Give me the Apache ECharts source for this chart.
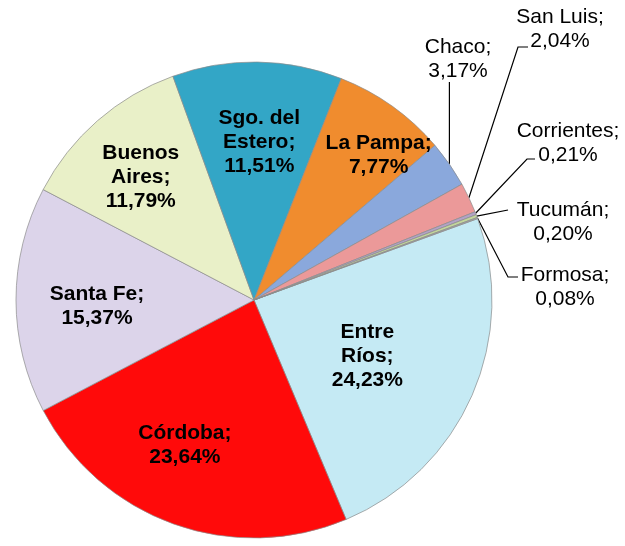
<!DOCTYPE html>
<html>
<head>
<meta charset="utf-8">
<script src="https://cdn.jsdelivr.net/npm/echarts@6/dist/echarts.min.js"></script>
<style>
  html, body { margin: 0; padding: 0; background: #fff; }
  #chart { width: 625px; height: 546px; }
</style>
</head>
<body>
<div id="chart"></div>
<script>
// provinces and shares (%)
const provinces = ['Entre Ríos', 'Córdoba', 'Santa Fe', 'Buenos Aires', 'Sgo. del Estero', 'La Pampa', 'Chaco', 'San Luis', 'Corrientes', 'Tucumán', 'Formosa'];
const shares = [24.23, 23.64, 15.37, 11.79, 11.51, 7.77, 3.17, 2.04, 0.21, 0.20, 0.08];
// how the label text is broken into lines
const labelNames = ['Entre\nRíos', 'Córdoba', 'Santa Fe', 'Buenos\nAires', 'Sgo. del\nEstero', 'La Pampa', 'Chaco', 'San Luis', 'Corrientes', 'Tucumán', 'Formosa'];

const colors = ['#c5eaf4', '#ff0a0a', '#dcd4ea', '#e9f0c8', '#33a6c6', '#f08c2e', '#8aa8dc', '#eb9999', '#b3a2c7', '#c3d69b', '#a6a6a6'];
const insideCount = 6;
// small tweaks of inner label placement
const innerOffsets = [[-36, -9], [-14, -8], [6, 6], [-6, 0], [3, 5], [30, -12]];
// outer labels: centre of the label, then where the leader meets it (relative to centre)
const outerSpots = {
  6: { at: [458, 59], end: 'vertical' },
  7: { at: [560, 29], end: [-32, 18], stub: 10 },
  8: { at: [568, 143], end: [-33, 16], stub: 8 },
  9: { at: [563, 222], end: [-55, -12], stub: 0 },
  10: { at: [565, 287], end: [-47, -10], stub: 10 }
};

const fmt = v => v.toFixed(2).replace('.', ',') + '%';
const font = 'Liberation Sans, Arial, sans-serif';
const center = [254, 300];

const chart = echarts.init(document.getElementById('chart'));

const baseData = provinces.map((p, i) => ({
  name: p,
  value: shares[i],
  itemStyle: { color: colors[i] },
  label: { show: i >= insideCount },
  labelLine: { show: i >= insideCount }
}));

const overlayData = provinces.map((p, i) => ({
  name: p,
  value: shares[i],
  label: i < insideCount ? { show: true, offset: innerOffsets[i] } : { show: false }
}));

chart.setOption({
  animation: false,
  series: [
    {
      type: 'pie',
      center: center,
      radius: 238,
      startAngle: 20,
      clockwise: true,
      avoidLabelOverlap: false,
      itemStyle: { borderColor: 'rgba(140,140,140,0.7)', borderWidth: 1 },
      emphasis: { disabled: true },
      label: {
        position: 'outside',
        color: '#000',
        fontFamily: font,
        fontSize: 21,
        lineHeight: 24,
        align: 'center',
        formatter: p => labelNames[p.dataIndex] + ';\n' + fmt(p.value)
      },
      labelLine: { lineStyle: { color: '#000', width: 1.2 }, length: 15, length2: 10 },
      labelLayout: p => {
        const s = outerSpots[p.dataIndex];
        if (!s) return {};
        const out = { x: s.at[0], y: s.at[1], align: 'center', verticalAlign: 'middle' };
        const pts = p.labelLinePoints;
        if (pts && pts.length) {
          const p0 = pts[0];
          if (s.end === 'vertical') {
            out.labelLinePoints = [p0, [p0[0], s.at[1] + 23], [p0[0], s.at[1] + 23]];
          } else {
            const ex = s.at[0] + s.end[0], ey = s.at[1] + s.end[1];
            out.labelLinePoints = [p0, [ex - s.stub, ey], [ex, ey]];
          }
        }
        return out;
      },
      data: baseData
    },
    {
      type: 'pie',
      center: center,
      radius: 320,
      startAngle: 20,
      clockwise: true,
      silent: true,
      itemStyle: { color: 'transparent' },
      emphasis: { disabled: true },
      labelLine: { show: false },
      label: {
        position: 'inside',
        color: '#000',
        fontFamily: font,
        fontWeight: 'bold',
        fontSize: 21,
        lineHeight: 24,
        align: 'center',
        formatter: p => labelNames[p.dataIndex] + ';\n' + fmt(p.value)
      },
      data: overlayData
    }
  ]
});
</script>
</body>
</html>
